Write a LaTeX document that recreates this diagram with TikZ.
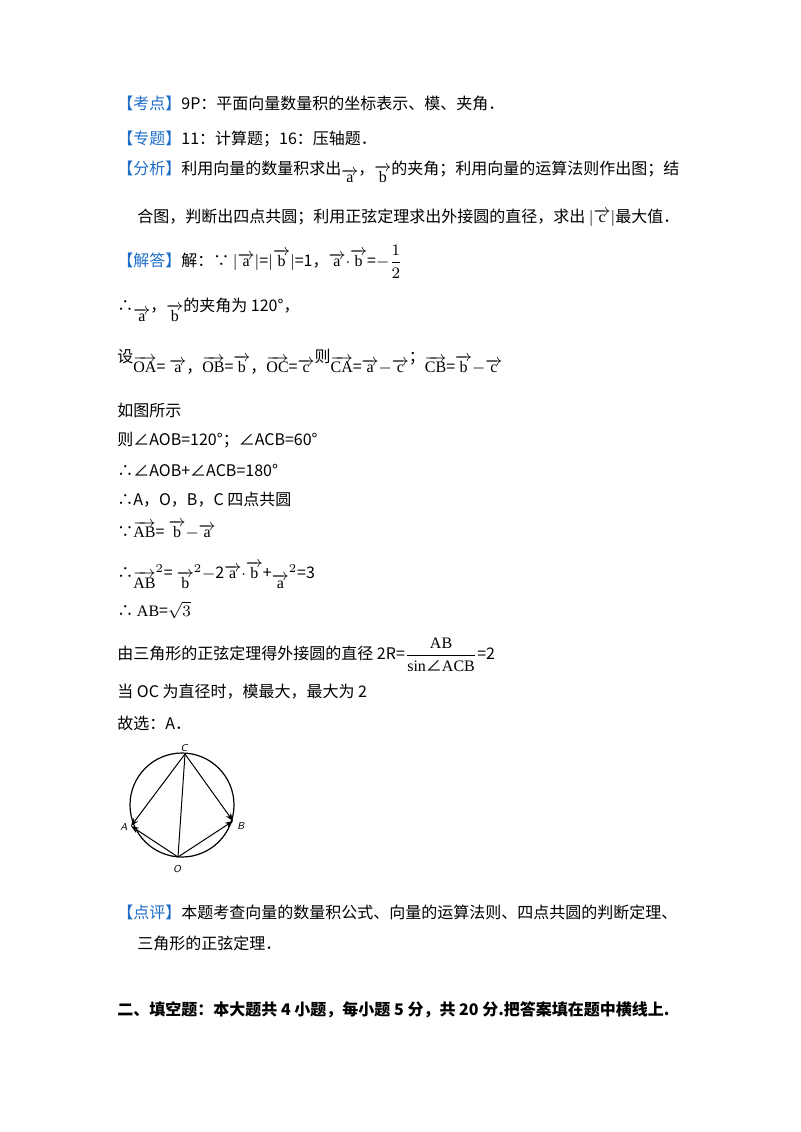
\documentclass[tikz,border=0pt]{standalone}
\usepackage{amsmath}
\usepackage{fontspec}
\setmainfont{Noto Sans CJK SC}
\newfontfamily\tms{Liberation Serif}
\usetikzlibrary{arrows.meta}
\definecolor{kblue}{RGB}{30,110,200}
\newcommand{\kb}[1]{\textcolor{kblue}{【#1】}}
\newcommand{\va}[1]{$\overrightarrow{\mbox{\tms #1}}$}
\begin{document}
\begin{tikzpicture}[x=0.5pt,y=-0.5pt,
  txt/.style={anchor=west,inner sep=0pt,font=\fontsize{8}{10}\selectfont},
  vec/.style={-{Stealth[length=4pt,width=3pt]},line width=0.5pt}]
\useasboundingbox (0,0) rectangle (800,1132);
\node[txt] (l1) at (117,103) {\kb{考点}9P：平面向量数量积的坐标表示、模、夹角．};
\node[txt] (l2) at (117,139) {\kb{专题}11：计算题；16：压轴题．};
\node[txt] (l3) at (117,172) {\kb{分析}利用向量的数量积求出\raisebox{-4pt}{\va{a}}，\raisebox{-4pt}{\va{b}}的夹角；利用向量的运算法则作出图；结};
\node[txt] (l4) at (137,218) {合图，判断出四点共圆；利用正弦定理求出外接圆的直径，求出 $|$\va{c}$|$最大值．};
\node[txt] (l5) at (117,262) {\kb{解答}解：∵ $|$\va{a}$|$=$|$\va{b}$|$=1，\va{a}$\cdot$\va{b}=$-\dfrac{1}{2}$};
\node[txt] (l6) at (117,310) {∴\raisebox{-5pt}{\va{a}}，\raisebox{-5pt}{\va{b}}的夹角为 120°，};
\node[txt] (l7) at (117,362) {设\raisebox{-5pt}{\va{OA}={\tms\ }\va{a}，\va{OB}=\va{b}，\va{OC}=\va{c}}则\raisebox{-5pt}{\va{CA}=\va{a}$-$\va{c}}；\raisebox{-5pt}{\va{CB}=\va{b}$-$\va{c}}};
\node[txt] (l8) at (117,410) {如图所示};
\node[txt] (l9) at (117,440) {则∠AOB=120°；∠ACB=60°};
\node[txt] (l10) at (117,470) {∴∠AOB+∠ACB=180°};
\node[txt] (l11) at (117,500) {∴A，O，B，C 四点共圆};
\node[txt] (l12) at (117,530) {∵\va{AB}={\tms\ }\va{b}$-$\va{a}};
\node[txt] (l13) at (117,575) {∴\raisebox{-5pt}{\va{AB}}$^2$={\tms\ }\raisebox{-5pt}{\va{b}}$^2$$-$2\va{a}$\cdot$\va{b}+\raisebox{-5pt}{\va{a}}$^2$=3};
\node[txt] (l14) at (117,610) {∴ {\tms AB}=$\sqrt{3}$};
\node[txt] (l15) at (117,655) {由三角形的正弦定理得外接圆的直径 2R=$\dfrac{\mbox{\tms AB}}{\mbox{{\tms sin}∠{\tms ACB}}}$=2};
\node[txt] (l16) at (117,692) {当 OC 为直径时，模最大，最大为 2};
\node[txt] (l17) at (117,723) {故选：A．};
% figure
\draw[line width=0.6pt] (182,805) circle (52);
\coordinate (C) at (185,754);
\coordinate (A) at (131,826);
\coordinate (B) at (233,821);
\coordinate (O) at (178,857);
\draw[vec] (C) -- (A);
\draw[vec] (C) -- (B);
\draw[vec] (O) -- (A);
\draw[vec] (O) -- (B);
\draw[line width=0.5pt] (C) -- (O);
\node[font=\sffamily\itshape\fontsize{5}{6}\selectfont] (lc) at (184,748) {C};
\node[font=\sffamily\itshape\fontsize{5}{6}\selectfont] (la) at (124,827) {A};
\node[font=\sffamily\itshape\fontsize{5}{6}\selectfont] (lb) at (241,826) {B};
\node[font=\sffamily\itshape\fontsize{5}{6}\selectfont] (lo) at (177,869) {O};
\node[txt] (l18) at (117,912) {\kb{点评}本题考查向量的数量积公式、向量的运算法则、四点共圆的判断定理、};
\node[txt] (l19) at (137,943) {三角形的正弦定理．};
\node[txt,font=\fontsize{8}{10}\selectfont\bfseries] (l20) at (117,1010) {二、填空题：本大题共 4 小题，每小题 5 分，共 20 分.把答案填在题中横线上.};
\end{tikzpicture}
\end{document}
